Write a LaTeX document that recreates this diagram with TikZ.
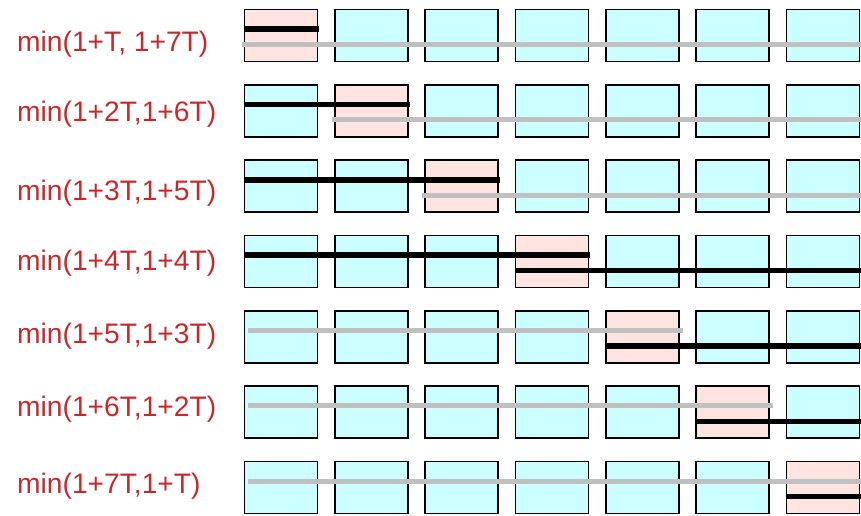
\documentclass[tikz,border=0pt]{standalone}
\usepackage{fontspec}
\setmainfont{Liberation Sans}
\usepackage{xcolor}
\usepackage{tikz}
\usetikzlibrary{positioning,calc}
\definecolor{cellblue}{HTML}{CCFFFF}
\definecolor{cellpink}{HTML}{FFE4E1}
\definecolor{labelred}{HTML}{C8282A}
\definecolor{pathgray}{HTML}{C0C0C0}

\begin{document}
\begin{tikzpicture}[
  x=1pt, y=-1pt,
  cell/.style={draw=black, fill=cellblue, line width=1.6pt, minimum width=73pt, minimum height=52pt, inner sep=0pt, anchor=north west},
  hot/.style={fill=cellpink},
  lbl/.style={text=labelred, font=\fontsize{28.2}{31}\selectfont, anchor=base west, inner sep=0pt},
  blk/.style={line width=5.5pt, color=black},
  gry/.style={line width=5pt, color=pathgray}
]
  \useasboundingbox (0,0) rectangle (861,516);

  % LABELS
  \node[lbl] (l1) at (17,51.7) {min(1+T, 1+7T)};
  \node[lbl] (l2) at (17,121.7) {min(1+2T,1+6T)};
  \node[lbl] (l3) at (17,200) {min(1+3T,1+5T)};
  \node[lbl] (l4) at (17,270) {min(1+4T,1+4T)};
  \node[lbl] (l5) at (17,343) {min(1+5T,1+3T)};
  \node[lbl] (l6) at (17,416.7) {min(1+6T,1+2T)};
  \node[lbl] (l7) at (17,493) {min(1+7T,1+T)};

  % GRID: diagonal cell is pink
  \foreach \r in {1,...,7}
    \foreach \c in {1,...,7} {
      \ifnum\r=\c \def\cs{hot}\else\def\cs{}\fi
      \node[cell,\cs] (b\r-\c) at ({243.8+(\c-1)*90.33},{8.8+(\r-1)*75.33}) {};
    }

  % Two lines per row, split at the pink cell
  \foreach \r in {1,...,7} {
    \ifnum\r<5 \def\up{blk}\def\us{0pt}\def\ue{1pt}\else\def\up{gry}\def\us{4pt}\def\ue{3pt}\fi
    \ifnum\r<4 \def\lo{gry}\def\ls{-2pt}\else\def\lo{blk}\def\ls{0pt}\fi
    \draw[\up] ([yshift=6.5pt,xshift=\us]b\r-1.west) -- ([yshift=6.5pt,xshift=\ue]b\r-\r.east);
    \draw[\lo] ([yshift=-9pt,xshift=\ls]b\r-\r.west) -- ([yshift=-9pt,xshift=3pt]b\r-7.east);
  }

\end{tikzpicture}
\end{document}
